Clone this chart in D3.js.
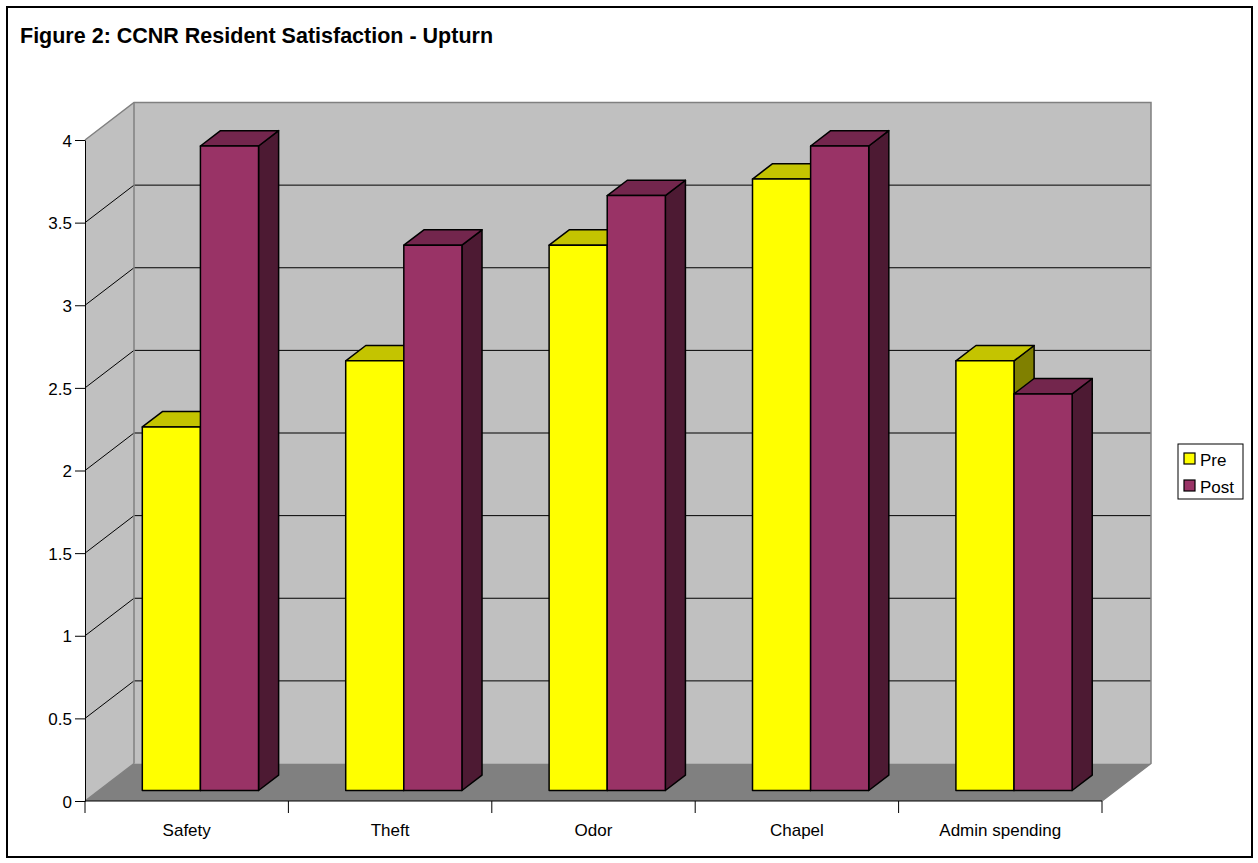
<!DOCTYPE html>
<html>
<head>
<meta charset="utf-8">
<script src="https://cdn.jsdelivr.net/npm/d3@7/dist/d3.min.js"></script>
<style>
  body { margin: 0; background: #fff; }
  svg text { font-family: "Liberation Sans", Arial, sans-serif; fill: #000; }
</style>
</head>
<body>
<svg id="chart" width="1258" height="863"></svg>
<script>
// chart data
var categories = ["Safety", "Theft", "Odor", "Chapel", "Admin spending"]
var seriesNames = ["Pre", "Post"]
var preValues = [2.2, 2.6, 3.3, 3.7, 2.6]
var postValues = [3.9, 3.3, 3.6, 3.9, 2.4]
var yTicks = [0, 0.5, 1, 1.5, 2, 2.5, 3, 3.5, 4]

// colours per series: front, top, side
var colors = {
    Pre:  ["#ffff00", "#c4c400", "#808000"],
    Post: ["#993366", "#73264d", "#4d1a33"]
}

var svg = d3.select("#chart")

// front plane of the 3d box and its depth offset
var plotLeft = 85, plotRight = 1102, plotBottom = 801, plotTop = 140
var DX = 49, DY = 37.5
var zFront = 0.28, zBack = 0.69   // bars sit in the middle of the depth

var x = d3.scaleBand().domain(categories).range([plotLeft, plotRight])
var xs = d3.scaleBand().domain(seriesNames).range([0, x.bandwidth()])
    .paddingInner(0).paddingOuter(0.75)
var y = d3.scaleLinear().domain([0, 4]).range([plotBottom, plotTop])

function pt(px, py, z) { return [px + z * DX, py - z * DY] }
function poly(points) { return points.map(function(p){ return p.join(",") }).join(" ") }

// outer frame + title
svg.append("rect").attr("x", 7).attr("y", 7).attr("width", 1245).attr("height", 850)
    .attr("fill", "#fff").attr("stroke", "#000").attr("stroke-width", 2)

svg.append("text")
    .attr("x", 20).attr("y", 43)
    .style("font-size", "21.5px").style("font-weight", "bold")
    .text("Figure 2: CCNR Resident Satisfaction - Upturn")

// walls and floor
svg.append("polygon")  // side wall
    .attr("points", poly([[plotLeft, plotBottom], [plotLeft, plotTop], pt(plotLeft, plotTop, 1), pt(plotLeft, plotBottom, 1)]))
    .attr("fill", "#c0c0c0")
svg.append("polygon")  // back wall
    .attr("points", poly([pt(plotLeft, plotTop, 1), pt(plotRight, plotTop, 1), pt(plotRight, plotBottom, 1), pt(plotLeft, plotBottom, 1)]))
    .attr("fill", "#c0c0c0")
svg.append("polygon")  // floor
    .attr("points", poly([[plotLeft, plotBottom], [plotRight, plotBottom], pt(plotRight, plotBottom, 1), pt(plotLeft, plotBottom, 1)]))
    .attr("fill", "#808080")

// gridlines
var grid = svg.append("g").attr("stroke", "#000").attr("stroke-width", 1)
yTicks.filter(function(v){ return v > 0 && v < 4 }).forEach(function(v){
    var a = pt(plotLeft, y(v), 1), b = pt(plotRight, y(v), 1)
    grid.append("line").attr("x1", plotLeft).attr("y1", y(v)).attr("x2", a[0]).attr("y2", a[1])
    grid.append("line").attr("x1", a[0]).attr("y1", a[1]).attr("x2", b[0]).attr("y2", b[1])
})

// wall edges
var edges = svg.append("g").attr("stroke", "#808080").attr("stroke-width", 1.5).attr("fill", "none")
edges.append("polyline")
    .attr("points", poly([[plotLeft, plotTop], pt(plotLeft, plotTop, 1), pt(plotRight, plotTop, 1), pt(plotRight, plotBottom, 1), [plotRight, plotBottom]]))
edges.append("line")
    .attr("x1", pt(plotLeft, plotTop, 1)[0]).attr("y1", pt(plotLeft, plotTop, 1)[1])
    .attr("x2", pt(plotLeft, plotBottom, 1)[0]).attr("y2", pt(plotLeft, plotBottom, 1)[1])
edges.append("line")
    .attr("x1", plotLeft).attr("y1", plotBottom)
    .attr("x2", pt(plotLeft, plotBottom, 1)[0]).attr("y2", pt(plotLeft, plotBottom, 1)[1])

// bars
var bars = svg.append("g").attr("stroke", "#000").attr("stroke-width", 1.5).attr("stroke-linejoin", "round")
categories.forEach(function(c, i){
    var vals = [preValues[i], postValues[i]]
    seriesNames.forEach(function(s, j){
        var x0 = x(c) + xs(s), x1 = x0 + xs.bandwidth()
        var yt = y(vals[j]), yb = y(0)
        var fTL = pt(x0, yt, zFront), fTR = pt(x1, yt, zFront)
        var fBL = pt(x0, yb, zFront), fBR = pt(x1, yb, zFront)
        var bTL = pt(x0, yt, zBack), bTR = pt(x1, yt, zBack), bBR = pt(x1, yb, zBack)
        var g = bars.append("g")
        g.append("polygon").attr("points", poly([fTR, bTR, bBR, fBR])).attr("fill", colors[s][2])
        g.append("polygon").attr("points", poly([fTL, fTR, bTR, bTL])).attr("fill", colors[s][1])
        g.append("polygon").attr("points", poly([fTL, fTR, fBR, fBL])).attr("fill", colors[s][0])
    })
})

// y axis
var yAxis = svg.append("g")
    .attr("transform", "translate(" + plotLeft + ",0)")
    .call(d3.axisLeft(y).tickValues(yTicks).tickSize(10).tickSizeOuter(0).tickPadding(3)
        .tickFormat(function(d){ return String(d) }))
yAxis.select(".domain").attr("stroke", "#000")
yAxis.selectAll(".tick line").attr("stroke", "#000")
yAxis.selectAll(".tick text").style("font-size", "17px").attr("font-family", null).attr("dy", "0.36em")

// x axis
svg.append("line").attr("x1", plotLeft).attr("y1", plotBottom).attr("x2", plotRight).attr("y2", plotBottom)
    .attr("stroke", "#000")
var xb = categories.map(function(c){ return x(c) }).concat([plotRight])
svg.append("g").selectAll("line").data(xb).enter().append("line")
    .attr("x1", function(d){ return d }).attr("x2", function(d){ return d })
    .attr("y1", plotBottom).attr("y2", plotBottom + 12)
    .attr("stroke", "#000")
svg.append("g").selectAll("text").data(categories).enter().append("text")
    .attr("x", function(d){ return x(d) + x.bandwidth() / 2 })
    .attr("y", 836)
    .attr("text-anchor", "middle")
    .style("font-size", "17px")
    .text(function(d){ return d })

// legend
var lg = svg.append("g")
lg.append("rect").attr("x", 1178).attr("y", 444).attr("width", 65).attr("height", 55)
    .attr("fill", "#fff").attr("stroke", "#000")
seriesNames.forEach(function(s, j){
    lg.append("rect").attr("x", 1184).attr("y", 453 + j * 27).attr("width", 11).attr("height", 11)
        .attr("fill", colors[s][0]).attr("stroke", "#000").attr("stroke-width", 1.2)
    lg.append("text").attr("x", 1200).attr("y", 465.5 + j * 27)
        .style("font-size", "17px").text(s)
})
</script>
</body>
</html>
